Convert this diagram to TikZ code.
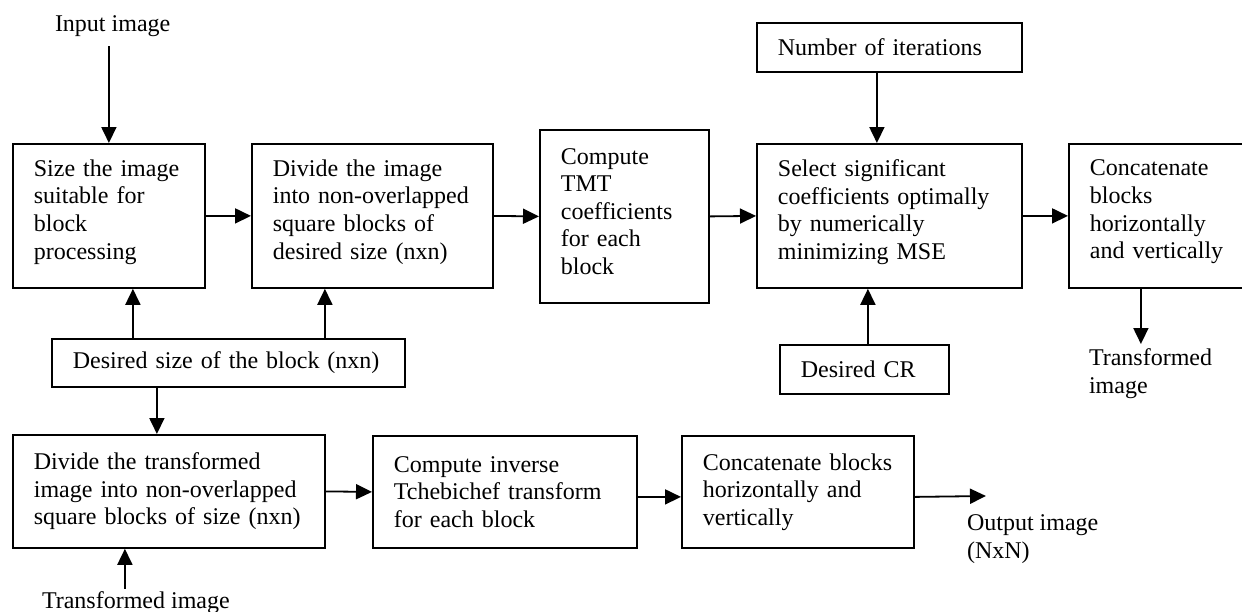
\documentclass[tikz,border=0pt]{standalone}
\usepackage{fontspec}
\setmainfont{Liberation Serif}
\usetikzlibrary{arrows.meta}
\newcommand\dpfix[1]{\rule[-#1pt]{0pt}{#1pt}}
\tikzset{
  txt/.style={font=\fontsize{24}{27.6}\selectfont},
  box/.style={txt, draw, line width=1.8pt, anchor=north west, inner xsep=21pt, inner ysep=0pt, align=left},
  lbl/.style={txt, inner sep=0pt, outer sep=0pt, align=left},
  arr/.style={line width=1.8pt, -{Triangle[length=16pt,width=15pt]}}
}
\begin{document}
\begin{tikzpicture}[x=1pt,y=-1pt]
\clip (0,0) rectangle (1242,611);
\fill[white] (0,0) rectangle (1242,611);
% top row
\node[box, minimum width=192pt, minimum height=144pt, text width=150pt] (b1) at (12,143) {Size the image\\suitable for\\block\\processing\dpfix{13}};
\node[box, minimum width=241pt, minimum height=144pt, text width=199pt] (b2) at (251,143) {Divide the image\\into non-overlapped\\square blocks of\\desired size (nxn)\dpfix{13}};
\node[box, minimum width=169pt, minimum height=173pt, text width=127pt] (b3) at (539,129) {Compute\\TMT\\coefficients\\for each\\block\dpfix{10}};
\node[box, minimum width=265pt, minimum height=144pt, text width=223pt] (b4) at (756,143) {Select significant\\coefficients optimally\\by numerically\\minimizing MSE\dpfix{13}};
\node[box, minimum width=182pt, minimum height=144pt, text width=140pt] (b5) at (1068,143) {Concatenate\\blocks\\horizontally\\and vertically\dpfix{13}};
\node[box, minimum width=265pt, minimum height=49pt, text width=223pt] (num) at (756,22) {Number of iterations};
% middle
\node[box, minimum width=353pt, minimum height=48pt, text width=311pt] (des) at (51,338) {Desired size of the block (nxn)};
\node[box, minimum width=169pt, minimum height=49pt, text width=127pt] (cr) at (779,344) {Desired CR};
% bottom row
\node[box, minimum width=312pt, minimum height=113pt, text width=270pt] (b6) at (12,434) {Divide the transformed\\image into non-overlapped\\square blocks of size (nxn)};
\node[box, minimum width=264pt, minimum height=112pt, text width=222pt] (b7) at (372,435) {Compute inverse\\Tchebichef transform\\for each block};
\node[box, minimum width=232pt, minimum height=112pt, text width=190pt] (b8) at (681,435) {Concatenate blocks\\horizontally and\\vertically};
% labels
\node[lbl, anchor=base west] (inimg) at (55,31) {Input image};
\node[lbl, anchor=base west] (trimgA) at (42,608) {Transformed image};
\node[lbl, anchor=north west] (trimgB) at (1089,348.5) {Transformed\\image};
\node[lbl, anchor=north west] (outimg) at (967,514.5) {Output image\\(NxN)};
\coordinate (outend) at (986,496);
% connectors
\draw[arr, shorten <=10pt] (b1.north |- inimg.south) -- (b1.north);
\draw[arr] (b1.east) -- (b2.west);
\draw[arr] (b2.east) -- (b3.west);
\draw[arr] (b3.east) -- (b4.west);
\draw[arr] (b4.east) -- (b5.west);
\draw[arr] ([xshift=-12.5pt]num.south) -- ([xshift=-12.5pt]b4.north);
\draw[arr] ([xshift=-21.5pt]b4.south |- cr.north) -- ([xshift=-21.5pt]b4.south);
\draw[arr, shorten >=4.5pt] ([xshift=-19pt]b5.south) -- ([xshift=-19pt]b5.south |- trimgB.north);
\draw[arr] ([xshift=24pt]b1.south |- des.north) -- ([xshift=24pt]b1.south);
\draw[arr] ([xshift=-47.5pt]b2.south |- des.north) -- ([xshift=-47.5pt]b2.south);
\draw[arr] ([xshift=-12pt]b6.north |- des.south) -- ([xshift=-12pt]b6.north);
\draw[arr] (b6.east) -- (b7.west);
\draw[arr] ([yshift=-5pt]b7.east) -- ([yshift=-5pt]b8.west);
\draw[arr] ([yshift=-5pt]b8.east) -- (outend);
\draw[arr, shorten <=2.5pt] ([xshift=-44pt]b6.south |- trimgA.north) -- ([xshift=-44pt]b6.south);
\end{tikzpicture}
\end{document}
